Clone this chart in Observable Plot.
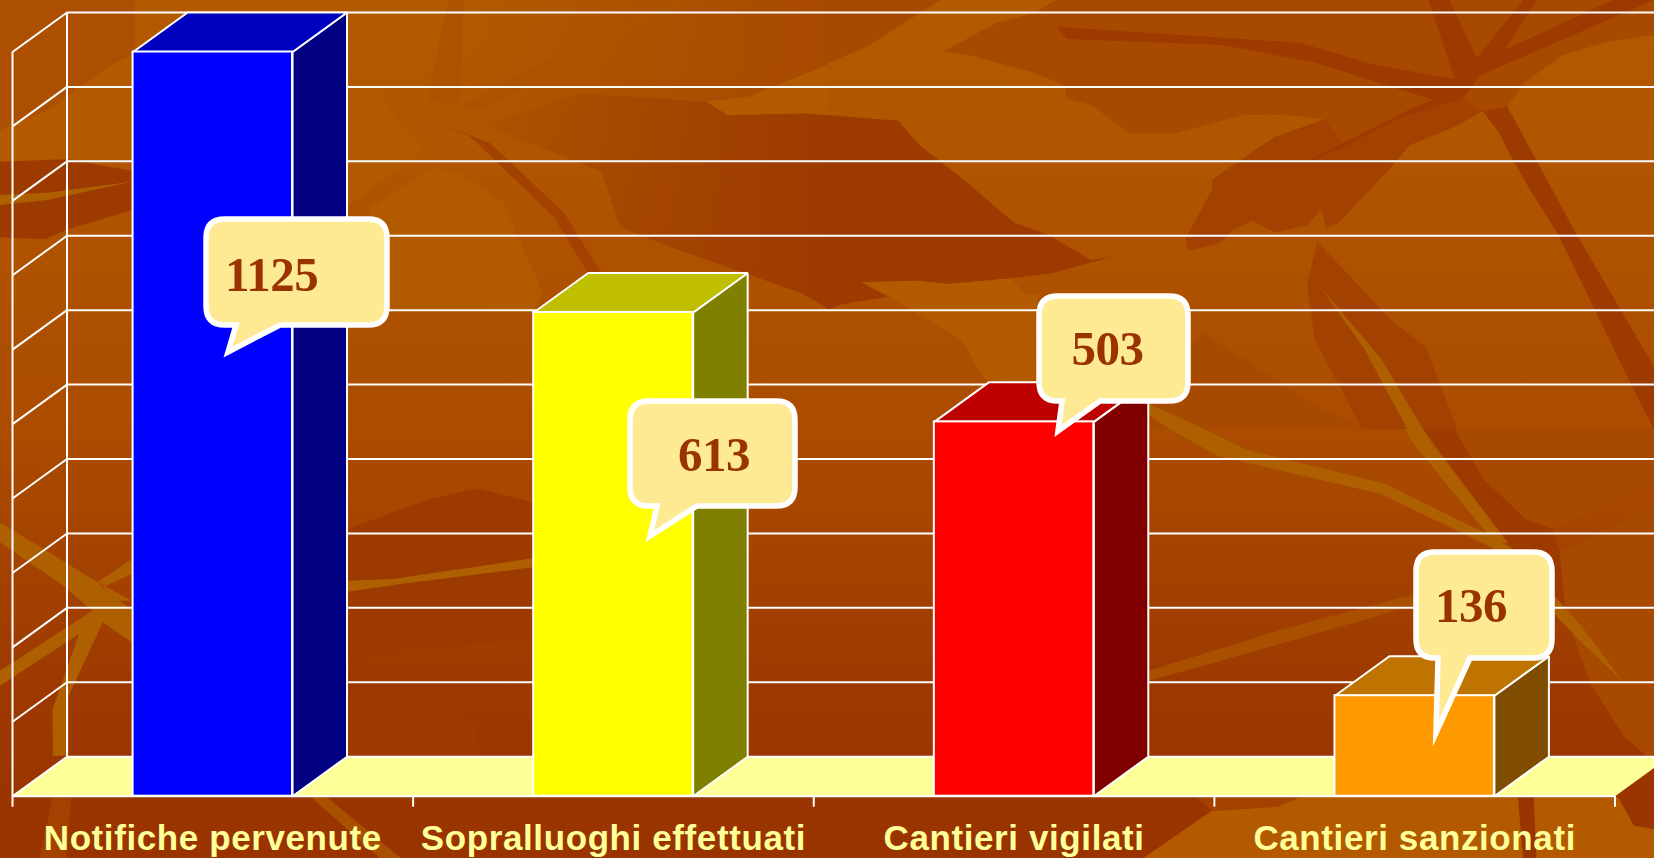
<!DOCTYPE html>
<html lang="it">
<head>
<meta charset="utf-8">
<title>Notifiche e cantieri</title>
<script src="https://cdn.jsdelivr.net/npm/d3@7"></script>
<script src="https://cdn.jsdelivr.net/npm/@observablehq/plot@0.6"></script>
<style>
  html,body{margin:0;padding:0;width:1654px;height:858px;overflow:hidden;background:#a04000}
  #stage{position:relative;width:1654px;height:858px;overflow:hidden}
  #stage svg{position:absolute;left:0;top:0;display:block}
  .val text,text.val{letter-spacing:-0.5px}
  .cat text{letter-spacing:0.6px}
</style>
</head>
<body>
<div id="stage"></div>
<script>
// ---------- chart data ----------
const categories = ["Notifiche pervenute","Sopralluoghi effettuati","Cantieri vigilati","Cantieri sanzionati"];
const calloutValues = [1125,613,503,136];      // numbers printed in the callouts
const barValues = [1125,650,503,135];          // bar heights (first is cut by the axis top)
const gridValues = [0,100,200,300,400,500,600,700,800,900,1000];
const bandTicks = [0,1,2,3,4];
const frontColors = ["#0000ff","#ffff00","#ff0000","#ff9900"];
const topColors = ["#0000bf","#bfbf00","#bf0000","#bf7300"];
const sideColors = ["#000080","#808000","#800000","#804d00"];

// ---------- layout ----------
const W = 1654, H = 858;
const M = {left:12, right:39.5, top:51.5, bottom:62.3};
const yMax = 1000;
const unitPx = (W - M.left - M.right) / 4;
const valPx = (H - M.top - M.bottom) / yMax;
const depthX = 54.5 / unitPx;    // oblique depth in x units
const depthY = 39.5 / valPx;     // oblique depth in y units
const barHalf = 0.199;
const toX = px => (px - M.left) / unitPx;
const toY = py => (H - M.bottom - py) / valPx;

const closed = pts => [...pts, pts[0]].map(([x,y]) => ({x,y}));
const face = (pts, fill) => Plot.line(closed(pts), {x:"x", y:"y", fill, stroke:"white", strokeWidth:2, strokeLinejoin:"miter"});

const barMarks = categories.flatMap((c,i) => {
  const cx = i + 0.5, x1 = cx - barHalf, x2 = cx + barHalf;
  const v = Math.min(barValues[i], yMax);
  return [
    face([[x2,0],[x2+depthX,depthY],[x2+depthX,v+depthY],[x2,v]], sideColors[i]),
    face([[x1,v],[x2,v],[x2+depthX,v+depthY],[x1+depthX,v+depthY]], topColors[i]),
    Plot.rect([i], {x1:()=>x1, x2:()=>x2, y1:()=>0, y2:()=>v, fill:frontColors[i], stroke:"white", strokeWidth:2})
  ];
});

// callout shapes: box, tail base and tip, plus text anchor (stroke centre line, pixels)
const callouts = [
  {box:[206,219,387,325], tail:[236,280,228,352], text:[224.5,290]},
  {box:[630,401,795,506], tail:[657,697,650,536], text:[677.5,470.5]},
  {box:[1039,296,1188,401], tail:[1062,1100,1058,431], text:[1071,364.5]},
  {box:[1416,552,1552,658], tail:[1438,1470,1436,733], text:[1434.5,621.5]}
];
function calloutPath({box:[a,b,c,d], tail:[l,r,tx,ty]}){
  const q = 19;
  return `M${a+q},${b}H${c-q}Q${c},${b} ${c},${b+q}V${d-q}Q${c},${d} ${c-q},${d}H${r}L${tx},${ty}L${l},${d}H${a+q}Q${a},${d} ${a},${d-q}V${b+q}Q${a},${b} ${a+q},${b}Z`;
}
const calloutMark = () => {
  const g = d3.create("svg:g");
  g.selectAll("path").data(callouts).join("path")
    .attr("d", calloutPath).attr("fill","#feea93").attr("stroke","white")
    .attr("stroke-width",5.5).attr("stroke-linejoin","miter").attr("stroke-miterlimit",12);
  return g.node();
};

const chart = Plot.plot({
  width:W, height:H,
  marginLeft:M.left, marginRight:M.right, marginTop:M.top, marginBottom:M.bottom,
  style:{background:"transparent", overflow:"hidden", fontFamily:"'Liberation Sans',sans-serif"},
  x:{type:"linear", domain:[0,4], axis:null},
  y:{type:"linear", domain:[0,yMax], axis:null},
  marks:[
    // floor
    Plot.line(closed([[0,0],[depthX,depthY],[4+depthX,depthY],[4,0]]), {x:"x", y:"y", fill:"#ffff99", stroke:"none"}),
    // back wall grid
    Plot.ruleY(gridValues, {y:d=>d+depthY, x1:()=>depthX, x2:()=>4.2, stroke:"white", strokeWidth:2}),
    Plot.ruleX([depthX], {y1:()=>depthY, y2:()=>yMax+depthY, stroke:"white", strokeWidth:2}),
    // side wall grid
    Plot.link(gridValues, {x1:()=>0, y1:d=>d, x2:()=>depthX, y2:d=>d+depthY, stroke:"white", strokeWidth:2}),
    Plot.ruleX([0], {y1:()=>0, y2:()=>yMax, stroke:"white", strokeWidth:2}),
    // front edge + ticks
    Plot.ruleY([0], {x1:()=>0, x2:()=>4, stroke:"white", strokeWidth:2}),
    Plot.axisX({ticks:bandTicks, tickSize:11, tickFormat:()=>"", stroke:"white", strokeWidth:2, label:null}),
    // bars
    ...barMarks,
    // category labels
    Plot.axisX({ticks:categories.map((c,i)=>i+0.5), tickSize:0, tickPadding:28.5, tickFormat:d=>categories[d-0.5],
      fontSize:35, fontWeight:700, fill:"#ffff99", label:null, className:"cat", textStroke:"none"}),
    // callouts
    calloutMark,
    Plot.text(calloutValues, {
      text:d=>String(d),
      x:(d,i)=>toX(callouts[i].text[0]), y:(d,i)=>toY(callouts[i].text[1]),
      textAnchor:"start", lineAnchor:"bottom", fontFamily:"'Liberation Serif',serif",
      fontWeight:700, fontSize:49, fill:"#993300", className:"val"
    })
  ]
});

// ---------- slide backdrop (decoration only) ----------
const Q = {TL:[0,0],TR:[827,0],BL:[0,429],BR:[827,429]};
const D1="#a84900", D2="#9c3a00", D3="#a24100", L1="#b35a00", G1="#ae5f00", G2="#a85000";
const F1="url(#fadeA)", F2="url(#fadeB)";
const shapes = [
  ["TL",L1,[[0,390],[90,330],[210,195],[255,160],[250,480],[125,478],[0,485]]],
  ["TL","#ac4f00",[[0,0],[255,0],[255,160],[210,195],[90,330],[0,390]]],
  ["TL",D2,[[0,485],[125,478],[250,512],[250,630],[125,690],[85,718],[0,712]]],
  ["TL",G1,[[0,585],[90,578],[250,545],[90,600],[0,615]]],
  ["TL",L1,[[660,250],[715,270],[760,375],[805,440],[760,510],[720,545],[660,620]]],
  ["TL",L1,[[700,625],[820,505],[870,520],[955,610],[1030,880],[1010,935],[740,930],[700,800]]],
  ["TL",F1,[[900,0],[1568,0],[1568,195],[1420,290],[1340,305],[1100,280],[920,375],[860,300]]],
  ["TL",F2,[[920,375],[1140,515],[1175,680],[1260,735],[1520,880],[1568,925],[1568,345],[1525,340],[1380,345],[1340,305],[1100,280]]],
  ["TL",L1,[[1340,305],[1420,290],[1568,195],[1568,345],[1525,340],[1380,345]]],
  ["TL",D3,[[830,370],[885,400],[1050,650],[1115,820],[1140,820],[1070,640],[930,430]]],
  ["TL","#ad5300",[[850,0],[880,0],[870,320],[810,300]]],
  ["TL","#ad5300",[[1265,0],[1320,0],[920,320],[870,320]]],
  ["TR",D1,[[0,0],[215,0],[75,140],[0,190]]],
  ["TR",D1,[[435,0],[390,40],[320,70],[220,155],[270,165],[395,220],[450,255],[455,297],[500,315],[575,400],[660,400],[790,345],[870,345],[945,358],[850,410],[730,540],[1000,600],[1105,435],[1190,380],[1243,333],[1290,320],[1320,250],[1395,165],[1480,125],[1568,105],[1568,0]]],
  ["TR",D3,[[850,410],[730,540],[730,570],[680,715],[685,752],[745,730],[770,690],[805,662],[850,697],[910,675],[938,628],[945,685],[970,668],[1065,510],[1105,435],[1190,380],[1243,333],[1205,295],[1085,355],[980,440],[945,358]]],
  ["TR",D2,[[435,80],[895,128],[1040,195],[1190,237],[1140,0],[1180,0],[1232,175],[1320,0],[1345,0],[1285,150],[1490,0],[1568,0],[1240,225],[1205,295],[1085,355],[980,440],[890,500],[1115,320],[1150,300],[930,190],[750,135],[455,117]]],
  ["TR",D2,[[1243,333],[1275,400],[1290,450],[1335,575],[1385,700],[1530,1170],[1568,1287],[1568,1100],[1420,700],[1290,320]]],
  ["TR",D2,[[0,345],[135,362],[175,435],[260,540],[355,668],[420,705],[500,780],[540,770],[430,818],[350,835],[230,852],[170,842],[65,847],[115,890],[30,912],[0,930]]],
  ["TR",L1,[[65,847],[170,842],[230,852],[350,835],[375,885],[400,880],[395,1150],[300,1140],[255,1020],[120,890]]],
  ["TR",D3,[[930,725],[1075,970],[1135,1040],[1195,1287],[1015,1287],[925,1020],[910,855]]],
  ["TR",G1,[[935,860],[1050,1075],[1130,1287],[1100,1287],[1020,1050]]],
  ["TR",D1,[[715,1000],[930,1220],[1015,1287],[610,1287],[600,1180]]],
  ["TR",G1,[[610,1210],[650,1240],[715,1287],[650,1287],[610,1245]]],
  ["BL",D2,[[660,300],[815,210],[905,178],[1010,220],[1010,640],[995,635],[770,660],[660,695]]],
  ["BL",D2,[[660,800],[740,810],[900,880],[910,980],[660,980]]],
  ["BL",G1,[[660,455],[745,450],[1010,388],[1010,415],[760,465],[660,488]]],
  ["BL",G1,[[0,280],[185,460],[195,475],[175,545],[120,470],[0,340]]],
  ["BL",G1,[[185,460],[250,390],[250,435],[195,475],[175,545],[0,725],[0,770],[150,615],[100,840],[100,980],[130,980],[130,800],[195,580],[250,640],[250,540],[225,515],[250,515]]],
  ["BL","#a34200",[[100,1105],[135,1105],[125,1287],[75,1287]]],
  ["BL",G2,[[590,1105],[620,1105],[760,1287],[720,1287]]],
  ["BR",D2,[[1100,0],[1190,0],[1245,150],[1325,270],[1375,300],[1390,370],[1400,560],[1300,360],[1130,0]]],
  ["BR",D1,[[1190,0],[1568,0],[1568,165],[1375,300],[1325,270],[1245,150]]],
  ["BR",D1,[[1390,370],[1530,260],[1568,225],[1568,1000],[1510,920],[1450,770],[1400,560]]],
  ["BR",G1,[[650,0],[715,0],[795,62],[1060,165],[1245,310],[1300,360],[1430,590],[1510,760],[1430,640],[1260,355],[1050,195],[740,80]]],
  ["BR",G1,[[1095,0],[1130,0],[1145,40],[1290,340],[1270,350],[1110,40]]],
  ["BR",G2,[[610,755],[725,705],[1090,540],[1120,530],[1120,495],[1090,505],[855,605],[610,725]]],
  ["BR",L1,[[600,1287],[650,1232],[730,1145],[855,1133],[895,1105],[1310,1105],[1320,1287]]],
  ["BR",L1,[[1340,1105],[1500,1105],[1530,1190],[1568,1200],[1568,1287],[1345,1287]]],
  ["BR",D3,[[700,1105],[895,1105],[855,1133],[730,1145]]]
];
const toPts = (q,pts) => pts.map(([x,y]) => `${(Q[q][0]+x/1.896).toFixed(1)},${(Q[q][1]+y/3).toFixed(1)}`).join(" ");
const backdrop = `<svg width="${W}" height="${H}" viewBox="0 0 ${W} ${H}" xmlns="http://www.w3.org/2000/svg" aria-hidden="true">
<defs><linearGradient id="bg" x1="0" y1="0" x2="0" y2="1"><stop offset="0" stop-color="#b35a00"/><stop offset="0.5" stop-color="#ab4c00"/><stop offset="0.82" stop-color="#9c3800"/><stop offset="1" stop-color="#993300"/></linearGradient>
<linearGradient id="fadeA" x1="0" x2="1" y1="0" y2="0"><stop offset="0" stop-color="#a84900" stop-opacity="0"/><stop offset="1" stop-color="#a84900"/></linearGradient>
<linearGradient id="fadeB" x1="0" x2="1" y1="0" y2="0"><stop offset="0" stop-color="#9c3a00" stop-opacity="0.15"/><stop offset="1" stop-color="#9c3a00"/></linearGradient></defs>
<rect width="${W}" height="${H}" fill="url(#bg)"/>
${shapes.map(([q,f,p]) => `<polygon fill="${f}" points="${toPts(q,p)}"/>`).join("")}
</svg>`;
const stage = document.getElementById("stage");
stage.insertAdjacentHTML("beforeend", backdrop);
stage.append(chart);
</script>
</body>
</html>
